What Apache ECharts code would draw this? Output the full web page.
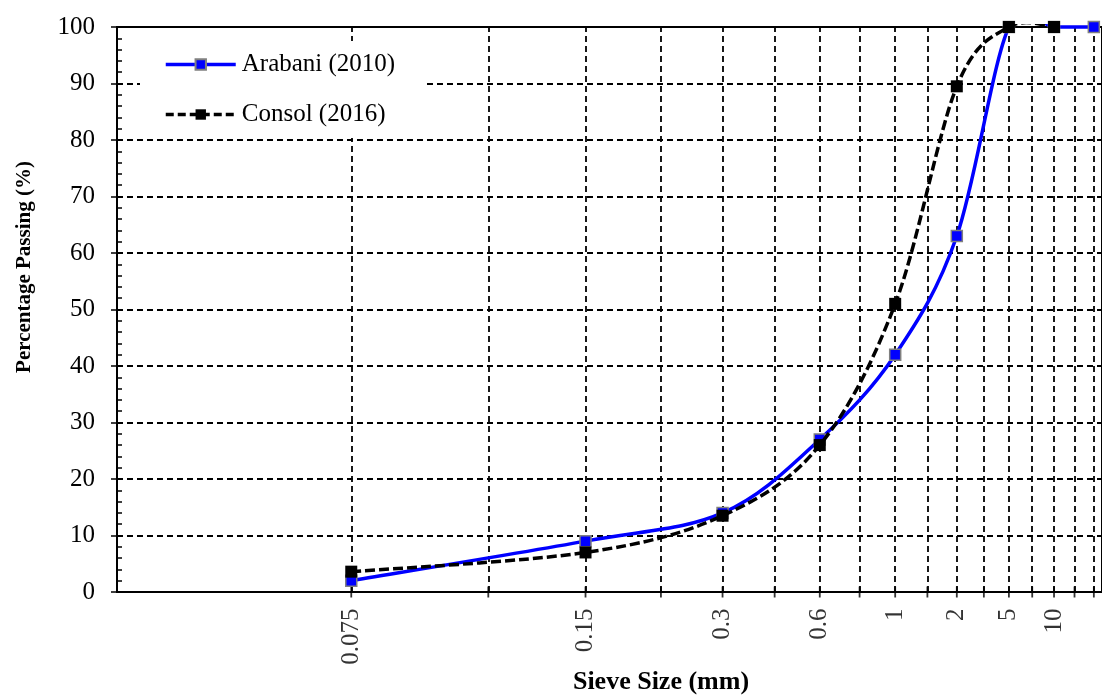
<!DOCTYPE html>
<html>
<head>
<meta charset="utf-8">
<script src="https://cdn.jsdelivr.net/npm/echarts@6/dist/echarts.min.js"></script>
<style>
html,body{margin:0;padding:0;background:#fff;}
#chart{width:1102px;height:697px;}
</style>
</head>
<body>
<div id="chart"></div>
<script>
// Plot positions used on the log axis (original chart places sieves at 2,4,6,... on a log scale)
const gridPositions = [2,3,4,5,6,7,8,9,10,11,12,13,14,15,16,17,18];
const sievePositions = [2,4,6,8,10,12,14,16];
const sieveLabels = ['0.075','0.15','0.3','0.6','1','2','5','10'];

const arabaniX = [2,4,6,8,10,12,14,16,18];
const arabaniY = [2,9,14,27,42,63,100,100,100];
const consolX = [2,4,6,8,10,12,14,16];
const consolY = [3.6,7,13.5,26,51,89.5,100,100];

const FONT = '"Liberation Serif", "Times New Roman", serif';
const BLUE = '#0000ff';

function pairs(xs, ys){ return xs.map((x,i)=>[x, ys[i]]); }

const labelFor = {};
sievePositions.forEach((p,i)=>{ labelFor[p] = sieveLabels[i]; });

// Spreadsheet-style smoothed curve (Catmull-Rom / Bezier, 1/6 tangents) built from axis coordinates
function smoothCurve(xs, ys, stroke, dash) {
  return function (params, api) {
    if (params.dataIndex !== 0) return;
    const pts = xs.map((x, i) => api.coord([x, ys[i]]));
    const n = pts.length;
    let d = 'M' + pts[0][0] + ' ' + pts[0][1];
    for (let i = 0; i < n - 1; i++) {
      const p0 = pts[i - 1] || pts[i];
      const p1 = pts[i];
      const p2 = pts[i + 1];
      const p3 = pts[i + 2] || pts[i + 1];
      const c1x = p1[0] + (p2[0] - p0[0]) / 6, c1y = p1[1] + (p2[1] - p0[1]) / 6;
      const c2x = p2[0] - (p3[0] - p1[0]) / 6, c2y = p2[1] - (p3[1] - p1[1]) / 6;
      d += ' C' + c1x + ' ' + c1y + ' ' + c2x + ' ' + c2y + ' ' + p2[0] + ' ' + p2[1];
    }
    const cs = params.coordSys;
    return {
      type: 'path',
      shape: {pathData: d},
      style: {fill: null, stroke: stroke, lineWidth: 3.5, lineDash: dash || null},
      clipPath: {type: 'rect', shape: {x: cs.x, y: cs.y - 3, width: cs.width, height: cs.height + 3}},
      silent: true
    };
  };
}

const chart = echarts.init(document.getElementById('chart'), null, {renderer:'canvas'});

const option = {
  animation: false,
  backgroundColor: '#fff',
  grid: {
    left: 117, top: 27, bottom: 105, right: 0,
    show: true, borderColor: '#000', borderWidth: 2, backgroundColor: 'transparent'
  },
  legend: {
    orient: 'vertical',
    left: 140, top: 41,
    backgroundColor: '#fff',
    padding: [11, 30, 11, 24],
    itemWidth: 70, itemHeight: 13, itemGap: 25,
    z: 10,
    textStyle: {fontFamily: FONT, fontSize: 25, color: '#000', padding: [0,0,0,1]},
    data: [
      {name: 'Arabani (2010)', lineStyle: {color: BLUE, width: 3.5, opacity: 1, type: 'solid'}},
      {name: 'Consol (2016)', lineStyle: {color: '#000', width: 3.5, opacity: 1, type: [8,4]}}
    ]
  },
  xAxis: {
    type: 'log', logBase: 10, min: 1, max: 18.44,
    axisLine: {show: true, onZero: false, lineStyle: {color: '#000', width: 2}},
    axisTick: {show: false},
    axisLabel: {show: false},
    splitLine: {show: false},
    minorTick: {show: false},
    minorSplitLine: {show: false}
  },
  yAxis: [{
    type: 'value', min: 0, max: 100, interval: 10,
    axisLine: {show: true, lineStyle: {color: '#000', width: 2}},
    axisTick: {show: true, length: 6, lineStyle: {color: '#000', width: 1.5}},
    axisLabel: {fontFamily: FONT, fontSize: 25, color: '#000', margin: 22},
    splitLine: {show: true, lineStyle: {color: '#000', width: 1.8, type: [6,4]}}
  },{
    type: 'value', min: 0, max: 100, interval: 10, position: 'left',
    axisLine: {show: false},
    axisTick: {show: false, inside: true},
    axisLabel: {show: false},
    splitLine: {show: false},
    minorTick: {show: true, splitNumber: 5, length: 5, lineStyle: {color: '#000', width: 1.5}}
  }],
  graphic: [
    {type: 'text', x: 25, y: 267, rotation: Math.PI/2,
      style: {text: 'Percentage Passing (%)', font: 'bold 21px ' + FONT, fill: '#000',
        textAlign: 'center', textVerticalAlign: 'middle'}},
    {type: 'text', x: 661, y: 682,
      style: {text: 'Sieve Size (mm)', font: 'bold 26px ' + FONT, fill: '#000',
        textAlign: 'center', textVerticalAlign: 'middle'}}
  ],
  series: [
    {
      name: 'ticks', type: 'scatter', clip: false, silent: true, z: 1,
      symbol: 'rect', symbolSize: [1.8, 11],
      itemStyle: {color: '#000'},
      data: gridPositions.map(p => [p, 0]),
      label: {
        show: true, position: 'bottom', distance: 11, rotate: 90,
        align: 'right', verticalAlign: 'middle',
        fontFamily: FONT, fontSize: 25, color: '#000',
        formatter: (p) => labelFor[p.value[0]] || ''
      },
      markLine: {
        silent: true, symbol: 'none', z: 1, animation: false,
        label: {show: false},
        lineStyle: {color: '#000', width: 1.8, type: [6,4]},
        data: gridPositions.map(p => ({xAxis: p}))
      }
    },
    {
      name: 'curveArabani', type: 'custom', z: 3, silent: true,
      renderItem: smoothCurve(arabaniX, arabaniY, BLUE, null),
      encode: {x: 0, y: 1},
      data: pairs(arabaniX, arabaniY)
    },
    {
      name: 'Arabani (2010)', type: 'line', z: 4,
      symbol: 'rect', symbolSize: 11,
      lineStyle: {color: BLUE, width: 3.5, opacity: 0},
      itemStyle: {color: BLUE, borderColor: '#808080', borderWidth: 1.5},
      data: pairs(arabaniX, arabaniY)
    },
    {
      name: 'curveConsol', type: 'custom', z: 5, silent: true,
      renderItem: smoothCurve(consolX, consolY, '#000', [10,4]),
      encode: {x: 0, y: 1},
      data: pairs(consolX, consolY)
    },
    {
      name: 'Consol (2016)', type: 'line', z: 6,
      symbol: 'rect', symbolSize: 12,
      lineStyle: {color: '#000', width: 3.5, type: [10,4], opacity: 0},
      itemStyle: {color: '#000'},
      data: pairs(consolX, consolY)
    }
  ]
};
chart.setOption(option);
</script>
</body>
</html>
